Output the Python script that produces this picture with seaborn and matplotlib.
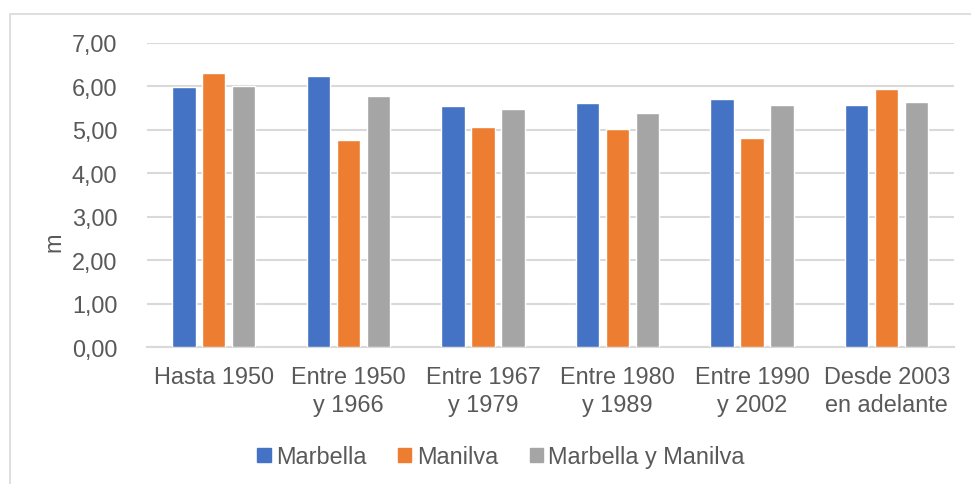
import matplotlib
matplotlib.use("Agg")
import matplotlib.pyplot as plt
from matplotlib.patches import Rectangle
from matplotlib.ticker import FuncFormatter, MultipleLocator
import seaborn as sns
import pandas as pd

# Periods of construction (x categories)
periodos = ["Hasta 1950", "Entre 1950\ny 1966", "Entre 1967\ny 1979",
            "Entre 1980\ny 1989", "Entre 1990\ny 2002", "Desde 2003\nen adelante"]

# Mean height (m) per municipality
marbella = [5.98, 6.22, 5.53, 5.60, 5.71, 5.56]
manilva = [6.30, 4.76, 5.05, 5.02, 4.80, 5.94]
ambos = [6.01, 5.78, 5.48, 5.37, 5.56, 5.63]

series = ["Marbella", "Manilva", "Marbella y Manilva"]
colores = ["#4472C4", "#ED7D31", "#A5A5A5"]

df = pd.DataFrame({
    "periodo": periodos * 3,
    "valor": marbella + manilva + ambos,
    "serie": [s for s in series for _ in periodos],
})

sns.set_theme(style="white")
plt.rcParams["font.family"] = ["Liberation Sans", "DejaVu Sans"]
text_color = "#595959"
fs = 16.9

fig = plt.figure(figsize=(9.71, 4.85), dpi=100)
ax = fig.add_axes([146.5 / 971, 1 - 348 / 485, (954 - 146.5) / 971, (348 - 43.5) / 485])

sns.barplot(data=df, x="periodo", y="valor", hue="serie", order=periodos,
            hue_order=series, palette=colores, width=0.668, gap=0.22,
            saturation=1, errorbar=None, ax=ax, zorder=3)

ax.set_ylim(0, 7)
ax.set_xlim(-0.5, len(periodos) - 0.5)
ax.yaxis.set_major_locator(MultipleLocator(1))
ax.yaxis.set_major_formatter(FuncFormatter(lambda v, _: f"{v:.2f}".replace(".", ",")))
ax.grid(axis="y", color="#D9D9D9", linewidth=1.5, zorder=0)
ax.set_axisbelow(True)
for side in ["left", "right", "top"]:
    ax.spines[side].set_visible(False)
ax.spines["bottom"].set_color("#D9D9D9")
ax.spines["bottom"].set_linewidth(1.5)

ax.tick_params(axis="y", length=0, pad=21, labelsize=fs, labelcolor=text_color)
ax.tick_params(axis="x", length=0, pad=13, labelsize=fs, labelcolor=text_color)
for lbl in ax.get_xticklabels():
    lbl.set_linespacing(1.25)

ax.set_xlabel("")
ax.set_ylabel("")
fig.text(54 / 971, 1 - 242 / 485, "m", rotation=90, ha="center", va="center",
         fontsize=fs, color=text_color)

ax.get_legend().remove()
handles = [Rectangle((0, 0), 1, 1, color=c) for c in colores]
fig.legend(handles, series, loc="center", bbox_to_anchor=(501 / 971, 1 - 458 / 485),
           ncol=3, frameon=False, fontsize=fs, labelcolor=text_color,
           handlelength=0.57, handleheight=0.57, handletextpad=0.22,
           columnspacing=1.35, borderaxespad=0, borderpad=0)

# Chart area frame
fig.patches.append(Rectangle((10 / 971, -0.1), 1.2, 1 - 14.5 / 485 + 0.1,
                             transform=fig.transFigure, fill=False,
                             edgecolor="#D9D9D9", linewidth=1.2))

fig.savefig("out.png", dpi=100)
